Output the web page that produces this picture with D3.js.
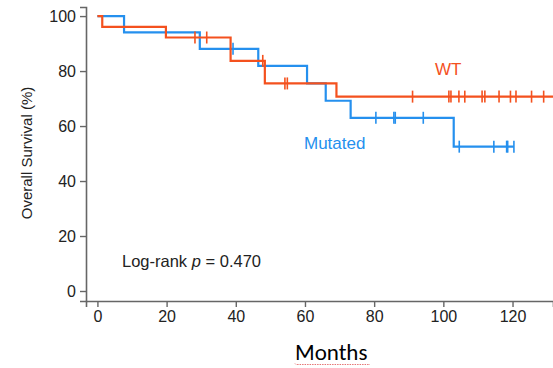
<!DOCTYPE html>
<html>
<head>
<meta charset="utf-8">
<script src="https://cdn.jsdelivr.net/npm/d3@7"></script>
<style>
  html, body { margin: 0; padding: 0; background: #fff; }
  svg { display: block; }
  text { font-family: "Liberation Sans", Arial, sans-serif; }
</style>
</head>
<body>
<svg id="chart" width="553" height="368"></svg>
<script>
// ---- Data ----
const xTicks = [0, 20, 40, 60, 80, 100, 120];
const yTicks = [0, 20, 40, 60, 80, 100];

// Mutated group: step times (months) and survival (%)
const mutTimes = [0, 7.7, 29.6, 46.5, 60.6, 66.0, 73.2, 103.0, 120.4];
const mutSurv  = [100, 94.1, 88.1, 81.9, 75.5, 69.2, 63.0, 52.5, 52.5];
const mutCensor = [39.2, 80.5, 85.7, 86.1, 94.2, 104.6, 114.6, 118.3, 118.6, 120.4];

// WT group
const wtTimes = [0, 1.4, 19.8, 38.5, 48.4, 69.1, 131.7];
const wtSurv  = [100, 96.1, 92.2, 83.7, 75.5, 70.7, 70.7];
const wtCensor = [28.2, 31.6, 47.8, 54.2, 54.9, 91.1, 101.6, 102.2, 104.5, 106.2, 111.2, 112.0, 116.1, 119.4, 121.0, 125.5, 129.0];

const seriesNames = ["WT", "Mutated"];
const colors = { "WT": "#f4511e", "Mutated": "#2590ee" };

// ---- Scales ----
const x = d3.scaleLinear().domain([-3.3, 131.7]).range([86, 553]);
const y = d3.scaleLinear().domain([-3.64, 103.3]).range([301, 7]);

const svg = d3.select("#chart");

// ---- Axes ----
const axisColor = "#666";
const gx = svg.append("g").attr("transform", "translate(0,301)")
  .call(d3.axisBottom(x).tickValues(xTicks).tickSizeOuter(0).tickSize(6).tickPadding(4));
const gy = svg.append("g").attr("transform", "translate(86,0)")
  .call(d3.axisLeft(y).tickValues(yTicks).tickSizeOuter(0).tickSize(6).tickPadding(4));
[gx, gy].forEach(g => {
  g.select(".domain").attr("stroke", axisColor).attr("stroke-width", 1.6);
  g.selectAll(".tick line").attr("stroke", axisColor).attr("stroke-width", 1.4);
  g.selectAll(".tick text").attr("fill", "#222").style("font-size", "16px")
    .style("font-family", "'Liberation Sans', Arial, sans-serif");
});

// ---- Curves ----
function stepValue(times, surv, t) {
  let v = surv[0];
  for (let i = 0; i < times.length; i++) { if (times[i] <= t) v = surv[i]; }
  return v;
}
const line = d3.line().x(d => x(d[0])).y(d => y(d[1])).curve(d3.curveStepAfter);

function drawSeries(name, times, surv, censor) {
  const pts = times.map((t, i) => [t, surv[i]]);
  svg.append("path").datum(pts)
    .attr("d", line)
    .attr("fill", "none")
    .attr("stroke", colors[name])
    .attr("stroke-width", 2.2);
  svg.append("g").selectAll("line").data(censor).join("line")
    .attr("x1", d => x(d)).attr("x2", d => x(d))
    .attr("y1", d => y(stepValue(times, surv, d)) - 6)
    .attr("y2", d => y(stepValue(times, surv, d)) + 6)
    .attr("stroke", colors[name])
    .attr("stroke-width", 1.6);
}
drawSeries("Mutated", mutTimes, mutSurv, mutCensor);
drawSeries("WT", wtTimes, wtSurv, wtCensor);

// ---- Labels ----
svg.append("text").attr("x", 435).attr("y", 75)
  .attr("fill", colors["WT"]).style("font-size", "17px").text("WT");
svg.append("text").attr("x", 304).attr("y", 149)
  .attr("fill", colors["Mutated"]).style("font-size", "17px").text("Mutated");

const lr = svg.append("text").attr("x", 122).attr("y", 267)
  .attr("fill", "#222").style("font-size", "16.5px");
lr.append("tspan").text("Log-rank ");
lr.append("tspan").style("font-style", "italic").text("p");
lr.append("tspan").text(" = 0.470");

svg.append("text")
  .attr("transform", "translate(32,153) rotate(-90)")
  .attr("text-anchor", "middle")
  .attr("fill", "#222").style("font-size", "15px")
  .text("Overall Survival (%)");

svg.append("text").attr("x", 295).attr("y", 360)
  .attr("fill", "#000")
  .style("font-family", "Carlito, Lato, 'Open Sans', sans-serif")
  .style("font-size", "23px")
  .text("Months");

// spell-check style wavy underline
let wave = "M295,363.5";
for (let px = 295; px < 371; px += 2) {
  wave += " L" + (px + 1) + "," + ((px / 2) % 2 === 0 ? 362.5 : 364.5);
}
svg.append("path").attr("d", wave).attr("fill", "none")
  .attr("stroke", "#e05050").attr("stroke-width", 0.8)
  .attr("stroke-dasharray", "1.5,1");
</script>
</body>
</html>
